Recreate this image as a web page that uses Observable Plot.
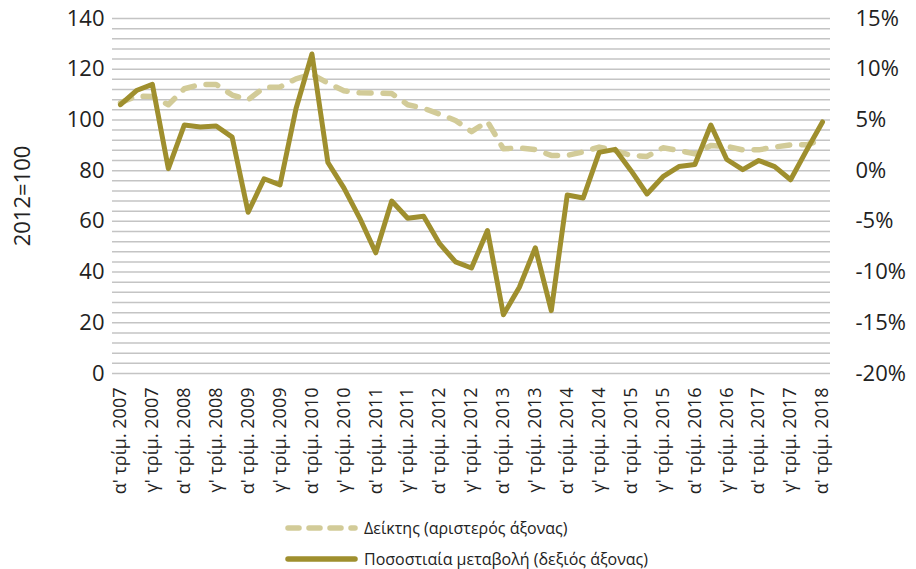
<!DOCTYPE html>
<html><head><meta charset="utf-8">
<script src="https://cdn.jsdelivr.net/npm/d3@7"></script>
<script src="https://cdn.jsdelivr.net/npm/@observablehq/plot@0.6"></script>
<style>
body{margin:0;background:#fff;font-family:"Open Sans",sans-serif;}
#chart{width:916px;height:569px;position:relative;overflow:hidden;}
.legend{position:absolute;left:283px;font-size:16px;color:#222;display:flex;align-items:center;height:24px;}
.legend svg{margin-right:5px;}
</style></head><body><div id="chart"></div>
<script>
const years = [2007,2008,2009,2010,2011,2012,2013,2014,2015,2016,2017,2018];
const quarterNames = ["α'","β'","γ'","δ'"];
// Quarterly values from α' τρίμ. 2007 to α' τρίμ. 2018
const indexValues = [106.8,109.4,109.2,106.0,112.3,114.0,114.0,109.8,107.9,112.8,
  113.0,116.2,118.0,114.5,111.5,110.7,110.6,110.4,106.0,104.6,
  102.3,99.8,95.4,99.4,88.6,89.0,88.3,86.0,86.0,87.4,
  89.3,87.9,86.0,85.6,89.0,87.9,86.6,89.9,89.6,88.2,
  88.2,89.3,90.2,90.2,92.3];
const pctChange = [6.5,7.9,8.5,0.2,4.5,4.3,4.4,3.3,-4.1,-0.8,
  -1.4,6.1,11.5,0.8,-1.7,-4.7,-8.1,-3.0,-4.7,-4.5,
  -7.2,-9.0,-9.6,-5.9,-14.2,-11.5,-7.6,-13.8,-2.4,-2.7,
  1.8,2.1,0.0,-2.3,-0.6,0.4,0.6,4.5,1.1,0.1,
  1.0,0.4,-0.9,2.0,4.8];
const leftTicks = [0,20,40,60,80,100,120,140];
const rightTicks = [-20,-15,-10,-5,0,5,10,15];
const seriesNames = ["Δείκτης (αριστερός άξονας)","Ποσοστιαία μεταβολή (δεξιός άξονας)"];
const yLabel = "2012=100";

const labels = years.flatMap(y => quarterNames.map(q => `${q} τρίμ. ${y}`)).slice(0, indexValues.length);
const tickLabels = labels.filter((d,i) => i % 2 === 0);
const rows = labels.map((q,i) => ({q, idx: indexValues[i], pct: pctChange[i]}));
// right axis (%) mapped onto left scale: -20% -> 0, 15% -> 140
const toLeft = p => (p + 20) * 4;

const W = 916, H = 508;
const plot = Plot.plot({
  width: W, height: H,
  marginTop: 18, marginBottom: H - 373, marginLeft: 112, marginRight: 86,
  style: {fontFamily: "'Open Sans', sans-serif", fontSize: "20px", color: "#222", background: "white", overflow: "visible"},
  x: {type: "point", domain: labels, padding: 0.5},
  y: {domain: [0, 140]},
  marks: [
    Plot.ruleY(d3.range(0, 141, 4), {stroke: "#c4c4c4", strokeWidth: 1.5}),
    Plot.axisY(leftTicks, {anchor: "left", tickSize: 0, tickPadding: 8, fontSize: 22,
      label: yLabel, labelAnchor: "center", labelArrow: "none", labelOffset: 98}),
    Plot.axisY(rightTicks.map(toLeft), {anchor: "right", tickSize: 0, tickPadding: 25, fontSize: 22,
      tickFormat: d => `${d / 4 - 20}%`, label: null}),
    Plot.axisX(tickLabels, {anchor: "bottom", tickRotate: -90, tickSize: 0, tickPadding: 14, fontSize: 18, label: null}),
    Plot.line(rows, {x: "q", y: "idx", stroke: "#d2cb98", strokeWidth: 5.5, strokeDasharray: "12,12", strokeLinecap: "round"}),
    Plot.line(rows, {x: "q", y: d => toLeft(d.pct), stroke: "#9f8f2e", strokeWidth: 5, strokeLinejoin: "round"})
  ]
});
const chart = document.getElementById("chart");
chart.appendChild(plot);

function addLegend(top, name, dashed) {
  const div = document.createElement("div");
  div.className = "legend";
  div.style.top = top + "px";
  const sw = dashed
    ? `<svg width="76" height="10"><line x1="5" y1="5" x2="72" y2="5" stroke="#d2cb98" stroke-width="5.5" stroke-linecap="round" stroke-dasharray="11,10"/></svg>`
    : `<svg width="76" height="10"><line x1="5" y1="5" x2="72" y2="5" stroke="#9f8f2e" stroke-width="5.5" stroke-linecap="round"/></svg>`;
  div.innerHTML = sw + `<span>${name}</span>`;
  chart.appendChild(div);
}
addLegend(516, seriesNames[0], true);
addLegend(547, seriesNames[1], false);
</script>
</body></html>
